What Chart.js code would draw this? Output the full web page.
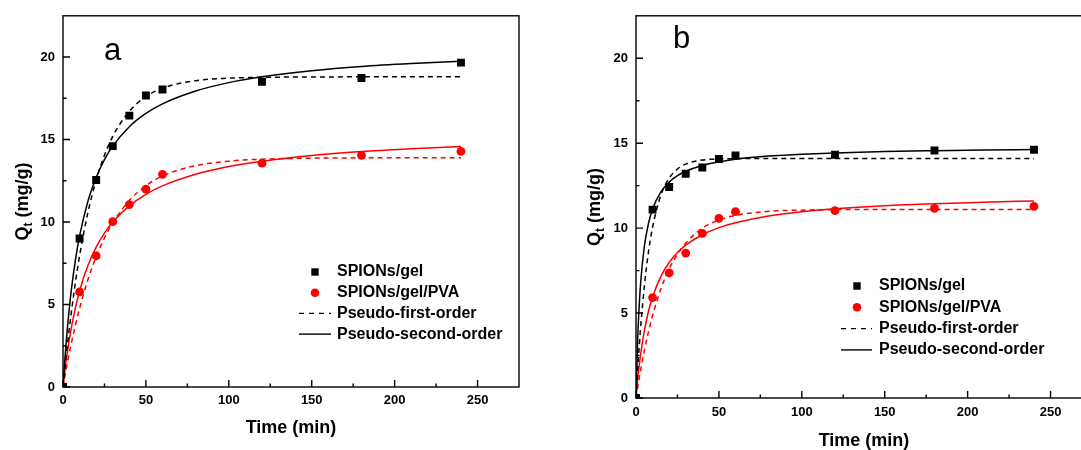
<!DOCTYPE html>
<html>
<head>
<meta charset="utf-8">
<script src="https://cdn.jsdelivr.net/npm/chart.js@4.4.1/dist/chart.umd.min.js"></script>
<style>
  html, body { margin: 0; padding: 0; background: #fff; overflow: hidden; width: 1081px; height: 450px; }
  canvas { position: absolute; top: 0; }
  #chartA { left: 0; }
  #chartB { left: 560px; }
</style>
</head>
<body>
<canvas id="chartA" width="540" height="450"></canvas>
<canvas id="chartB" width="545" height="450"></canvas>
<script>
// measured points (min, mg/g)
const timePoints = [0, 10, 20, 30, 40, 50, 60, 120, 180, 240];
const gelA = [0, 9.0, 12.55, 14.6, 16.45, 17.67, 18.03, 18.5, 18.73, 19.66];
const pvaA = [0, 5.76, 7.95, 10.02, 11.06, 11.99, 12.89, 13.57, 14.04, 14.28];
const gelB = [0, 11.09, 12.42, 13.2, 13.57, 14.07, 14.28, 14.32, 14.57, 14.61];
const pvaB = [0, 5.91, 7.36, 8.53, 9.69, 10.58, 10.97, 11.03, 11.16, 11.28];

// fitted curves
const fitTime = [0, 1, 2, 3, 5, 7.5, 10, 15, 20, 25, 30, 40, 50, 60, 80, 100, 120, 150, 180, 210, 240];
const pfoGelA = [0, 1.01, 1.96, 2.86, 4.51, 6.35, 7.95, 10.57, 12.54, 14.04, 15.19, 16.71, 17.6, 18.11, 18.57, 18.72, 18.77, 18.79, 18.8, 18.8, 18.8];
const psoGelA = [0, 1.51, 2.82, 3.96, 5.86, 7.71, 9.15, 11.25, 12.7, 13.78, 14.6, 15.78, 16.58, 17.16, 17.94, 18.45, 18.8, 19.17, 19.43, 19.61, 19.75];
const pfoPvaA = [0, 0.57, 1.12, 1.65, 2.63, 3.76, 4.77, 6.5, 7.9, 9.03, 9.95, 11.31, 12.2, 12.79, 13.42, 13.69, 13.81, 13.87, 13.89, 13.9, 13.9];
const psoPvaA = [0, 0.88, 1.66, 2.36, 3.58, 4.81, 5.82, 7.36, 8.48, 9.33, 10.0, 10.98, 11.68, 12.19, 12.89, 13.36, 13.68, 14.03, 14.27, 14.44, 14.58];
const pfoGelB = [0, 1.66, 3.12, 4.41, 6.55, 8.58, 10.06, 11.94, 12.94, 13.48, 13.77, 14.01, 14.07, 14.09, 14.1, 14.1, 14.1, 14.1, 14.1, 14.1, 14.1];
const psoGelB = [0, 3.42, 5.56, 7.02, 8.9, 10.27, 11.12, 12.13, 12.71, 13.09, 13.35, 13.69, 13.9, 14.05, 14.24, 14.35, 14.43, 14.51, 14.56, 14.6, 14.63];
const pfoPvaB = [0, 0.62, 1.21, 1.76, 2.78, 3.89, 4.86, 6.42, 7.6, 8.47, 9.12, 10.0, 10.48, 10.75, 10.99, 11.06, 11.09, 11.1, 11.1, 11.1, 11.1];
const psoPvaB = [0, 1.07, 1.96, 2.72, 3.94, 5.09, 5.95, 7.16, 7.98, 8.56, 9.0, 9.61, 10.03, 10.32, 10.72, 10.97, 11.14, 11.32, 11.44, 11.53, 11.6];

const seriesNames = ['SPIONs/gel', 'SPIONs/gel/PVA'];
const fitNames = ['Pseudo-first-order', 'Pseudo-second-order'];
const xMinor = [25, 75, 125, 175, 225];
const yMinor = [2.5, 7.5, 12.5, 17.5];

const FONT = "'Liberation Sans', Arial, sans-serif";
const RED = '#ff0000';

const pts = (xs, ys) => xs.map((x, i) => ({x: x, y: ys[i]}));

const decor = {
  id: 'decor',
  afterDraw(chart, args, o) {
    const ctx = chart.ctx;
    const a = chart.chartArea;
    const x = chart.scales.x, y = chart.scales.y;
    ctx.save();
    ctx.strokeStyle = '#000';
    ctx.lineWidth = 1.4;
    ctx.strokeRect(a.left, a.top, a.right - a.left, a.bottom - a.top);

    // inward ticks
    ctx.beginPath();
    x.ticks.forEach(t => { const p = x.getPixelForValue(t.value); ctx.moveTo(p, a.bottom); ctx.lineTo(p, a.bottom - 7); });
    xMinor.forEach(v => { const p = x.getPixelForValue(v); ctx.moveTo(p, a.bottom); ctx.lineTo(p, a.bottom - 3.5); });
    y.ticks.forEach(t => { const p = y.getPixelForValue(t.value); ctx.moveTo(a.left, p); ctx.lineTo(a.left + 7, p); });
    yMinor.forEach(v => { const p = y.getPixelForValue(v); ctx.moveTo(a.left, p); ctx.lineTo(a.left + 3.5, p); });
    ctx.stroke();

    ctx.fillStyle = '#000';
    // x title
    ctx.font = 'bold 18px ' + FONT;
    ctx.textAlign = 'center';
    ctx.textBaseline = 'middle';
    ctx.fillText('Time (min)', (a.left + a.right) / 2, o.xTitleY);

    // y title with subscript
    ctx.save();
    ctx.translate(o.yTitleX, (a.top + a.bottom) / 2);
    ctx.rotate(-Math.PI / 2);
    ctx.textAlign = 'left';
    const big = 'bold 18px ' + FONT, small = 'bold 12px ' + FONT;
    ctx.font = big; const wQ = ctx.measureText('Q').width; const wR = ctx.measureText(' (mg/g)').width;
    ctx.font = small; const wt = ctx.measureText('t').width;
    let sx = -(wQ + wt + wR) / 2;
    ctx.font = big; ctx.fillText('Q', sx, 0); sx += wQ;
    ctx.font = small; ctx.fillText('t', sx, 6); sx += wt;
    ctx.font = big; ctx.fillText(' (mg/g)', sx, 0);
    ctx.restore();

    // panel letter
    ctx.font = '31px ' + FONT;
    ctx.textAlign = 'left';
    ctx.textBaseline = 'alphabetic';
    ctx.fillText(o.letter, o.letterX, o.letterY);

    // legend
    const L = o.legend;
    ctx.font = 'bold 16px ' + FONT;
    ctx.textBaseline = 'middle';
    const labels = [seriesNames[0], seriesNames[1], fitNames[0], fitNames[1]];
    labels.forEach((txt, i) => {
      const ry = L.y + i * L.gap;
      ctx.fillStyle = '#000';
      ctx.fillText(txt, L.textX, ry);
      if (i === 0) {
        ctx.fillRect(L.markX - 3.7, ry - 3.7, 7.4, 7.4);
      } else if (i === 1) {
        ctx.fillStyle = RED;
        ctx.beginPath(); ctx.arc(L.markX, ry, 4.3, 0, Math.PI * 2); ctx.fill();
      } else {
        ctx.beginPath();
        ctx.setLineDash(i === 2 ? [5, 5] : []);
        ctx.lineWidth = 1.4;
        ctx.moveTo(L.lineX0, ry); ctx.lineTo(L.lineX1, ry);
        ctx.stroke();
        ctx.setLineDash([]);
      }
    });
    ctx.restore();
  }
};

function makePanel(id, data, geo) {
  const [gel, pva, pfoGel, psoGel, pfoPva, psoPva] = data;
  const tickFont = {family: FONT, size: 13, weight: 'bold'};
  const scatter = (d, color, style, r) => ({
    data: pts(timePoints, d), showLine: false, pointStyle: style, pointRadius: r,
    pointBackgroundColor: color, pointBorderColor: color, pointBorderWidth: 0
  });
  const fit = (d, color, dash) => ({
    data: pts(fitTime, d), borderColor: color, borderWidth: 1.5, borderDash: dash,
    pointRadius: 0, cubicInterpolationMode: 'monotone', fill: false
  });
  return new Chart(document.getElementById(id), {
    type: 'line',
    data: {
      datasets: [
        scatter(gel, '#000', 'rect', 5.6),
        scatter(pva, RED, 'circle', 4.4),
        fit(pfoGel, '#000', [5, 4]),
        fit(psoGel, '#000', []),
        fit(pfoPva, RED, [5, 4]),
        fit(psoPva, RED, [])
      ]
    },
    options: {
      responsive: false,
      animation: false,
      events: [],
      layout: {padding: {top: geo.top, right: geo.right, left: 0, bottom: 0}},
      plugins: {
        legend: {display: false},
        tooltip: {enabled: false},
        decor: geo.decor
      },
      scales: {
        x: {
          type: 'linear', min: 0, max: 275,
          ticks: {stepSize: 50, includeBounds: false, font: tickFont, color: '#000', padding: geo.xPad, maxRotation: 0,
                  callback: v => String(v)},
          grid: {display: false, drawTicks: false},
          border: {display: false},
          afterFit: s => { s.height = geo.xHeight; }
        },
        y: {
          type: 'linear', min: 0, max: 22.5,
          ticks: {stepSize: 5, includeBounds: false, font: tickFont, color: '#000', padding: 8,
                  callback: v => String(v)},
          grid: {display: false, drawTicks: false},
          border: {display: false},
          afterFit: s => { s.width = geo.yWidth; }
        }
      }
    },
    plugins: [decor]
  });
}

makePanel('chartA', [gelA, pvaA, pfoGelA, psoGelA, pfoPvaA, psoPvaA], {
  top: 14, right: 21, xHeight: 63, yWidth: 63, xPad: 6,
  decor: {
    xTitleY: 428, yTitleX: 23, letter: 'a', letterX: 104, letterY: 60,
    legend: {textX: 337, y: 272, gap: 20.7, markX: 315, lineX0: 299, lineX1: 331}
  }
});

makePanel('chartB', [gelB, pvaB, pfoGelB, psoGelB, pfoPvaB, psoPvaB], {
  top: 11, right: 13, xHeight: 52, yWidth: 76, xPad: 7,
  decor: {
    xTitleY: 441, yTitleX: 35, letter: 'b', letterX: 113, letterY: 48,
    legend: {textX: 319, y: 286, gap: 21.3, markX: 297, lineX0: 281, lineX1: 312}
  }
});
</script>
</body>
</html>
